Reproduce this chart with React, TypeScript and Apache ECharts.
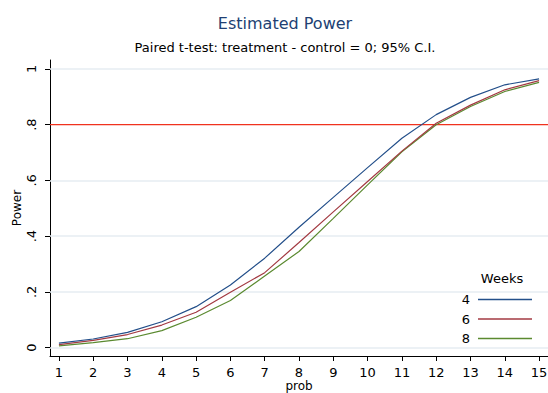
import React, { useEffect, useRef } from "react";
import * as echarts from "echarts";

const probs = [1, 2, 3, 4, 5, 6, 7, 8, 9, 10, 11, 12, 13, 14, 15];
const weeks4 = [0.016, 0.031, 0.055, 0.093, 0.147, 0.225, 0.321, 0.432, 0.539, 0.646, 0.751, 0.836, 0.898, 0.943, 0.964];
const weeks6 = [0.011, 0.026, 0.047, 0.081, 0.127, 0.199, 0.269, 0.377, 0.487, 0.596, 0.705, 0.805, 0.870, 0.925, 0.958];
const weeks8 = [0.006, 0.018, 0.032, 0.061, 0.109, 0.169, 0.257, 0.345, 0.464, 0.584, 0.703, 0.800, 0.865, 0.919, 0.952];
const yTicks = [0, 0.2, 0.4, 0.6, 0.8, 1];
const yTickLabels = ["0", ".2", ".4", ".6", ".8", "1"];
const targetPower = 0.8;
const seriesNames = ["4", "6", "8"];

const FONT = "DejaVu Sans, Verdana, sans-serif";
const X_MIN = 0.74;
const X_MAX = 15.26;

export default function App() {
  const ref = useRef<HTMLDivElement>(null);
  useEffect(() => {
    if (!ref.current) return;
    const chart = echarts.init(ref.current, undefined, { renderer: "svg" });
    const mk = (d: number[]) => probs.map((p, i) => [p, d[i]]);
    const colors = ["#234f8a", "#a33a42", "#5b8a30"];
    const datas = [weeks4, weeks6, weeks8];
    const gridLines = yTicks
      .filter((t) => t !== targetPower)
      .map((t) => ({ yAxis: t }));
    chart.setOption({
      animation: false,
      textStyle: { fontFamily: FONT },
      graphic: [
        {
          type: "text",
          x: 285,
          y: 23,
          style: { text: "Estimated Power", fill: "#213f73", font: `16px ${FONT}`, align: "center", verticalAlign: "middle" },
        },
        {
          type: "text",
          x: 285,
          y: 47,
          style: { text: "Paired t-test: treatment - control = 0; 95% C.I.", fill: "#000", font: `13px ${FONT}`, align: "center", verticalAlign: "middle" },
        },
        {
          type: "text",
          x: 502,
          y: 278,
          style: { text: "Weeks", fill: "#000", font: `13px ${FONT}`, align: "center", verticalAlign: "middle" },
        },
      ],
      grid: { left: 50, right: 0, top: 60, bottom: 37, containLabel: false, outerBoundsMode: "none" },
      legend: {
        data: seriesNames,
        orient: "vertical",
        align: "right",
        right: 11,
        top: 288,
        z: 10,
        icon: "rect",
        itemWidth: 54,
        itemHeight: 1.5,
        itemGap: 6.5,
        textStyle: { fontSize: 13, lineHeight: 13, color: "#000", fontFamily: FONT, padding: [0, 3, 0, 0] },
      },
      xAxis: {
        type: "value",
        min: X_MIN,
        max: X_MAX,
        name: "prob",
        nameLocation: "middle",
        nameGap: 24,
        nameMoveOverlap: false,
        nameTextStyle: { fontSize: 12, lineHeight: 12, color: "#000", fontFamily: FONT, verticalAlign: "top" },
        axisLine: { show: true, onZero: false, lineStyle: { color: "#000", width: 1 } },
        axisTick: { show: true, length: 5, lineStyle: { color: "#000" }, customValues: probs },
        axisLabel: { fontSize: 13, lineHeight: 13, color: "#000", margin: 10, customValues: probs, fontFamily: FONT },
        splitLine: { show: false },
      },
      yAxis: {
        type: "value",
        min: -0.03,
        max: 1.032,
        name: "Power",
        nameLocation: "middle",
        nameGap: 27,
        nameMoveOverlap: false,
        nameRotate: 90,
        nameTextStyle: { fontSize: 12, color: "#000", fontFamily: FONT },
        axisLine: { show: true, onZero: false, lineStyle: { color: "#000", width: 1 } },
        axisTick: { show: true, length: 5, lineStyle: { color: "#000" }, customValues: yTicks },
        axisLabel: {
          fontSize: 13,
          color: "#000",
          rotate: 90,
          margin: 12,
          customValues: yTicks,
          fontFamily: FONT,
          formatter: (v: number) => {
            const i = yTicks.findIndex((t) => Math.abs(t - v) < 1e-6);
            return i >= 0 ? yTickLabels[i] : "";
          },
        },
        splitLine: { show: false },
      },
      series: [
        {
          name: "target",
          type: "line",
          data: [
            [X_MIN, targetPower],
            [X_MAX, targetPower],
          ],
          showSymbol: false,
          symbol: "none",
          silent: true,
          lineStyle: { color: "#f0321e", width: 1.2 },
          itemStyle: { color: "#f0321e" },
          z: 2,
          markLine: {
            silent: true,
            symbol: "none",
            z: 1,
            label: { show: false },
            lineStyle: { color: "#e6edf2", width: 1.5, type: "solid" },
            data: gridLines,
          },
        },
        ...datas.map((d, i) => ({
          name: seriesNames[i],
          type: "line",
          data: mk(d),
          showSymbol: false,
          symbol: "none",
          lineStyle: { color: colors[i], width: 1.2 },
          itemStyle: { color: colors[i] },
          z: 5 - i,
        })),
      ],
    });
    return () => chart.dispose();
  }, []);
  return <div ref={ref} style={{ width: 548, height: 393, position: "absolute", left: 0, top: 0 }} />;
}
